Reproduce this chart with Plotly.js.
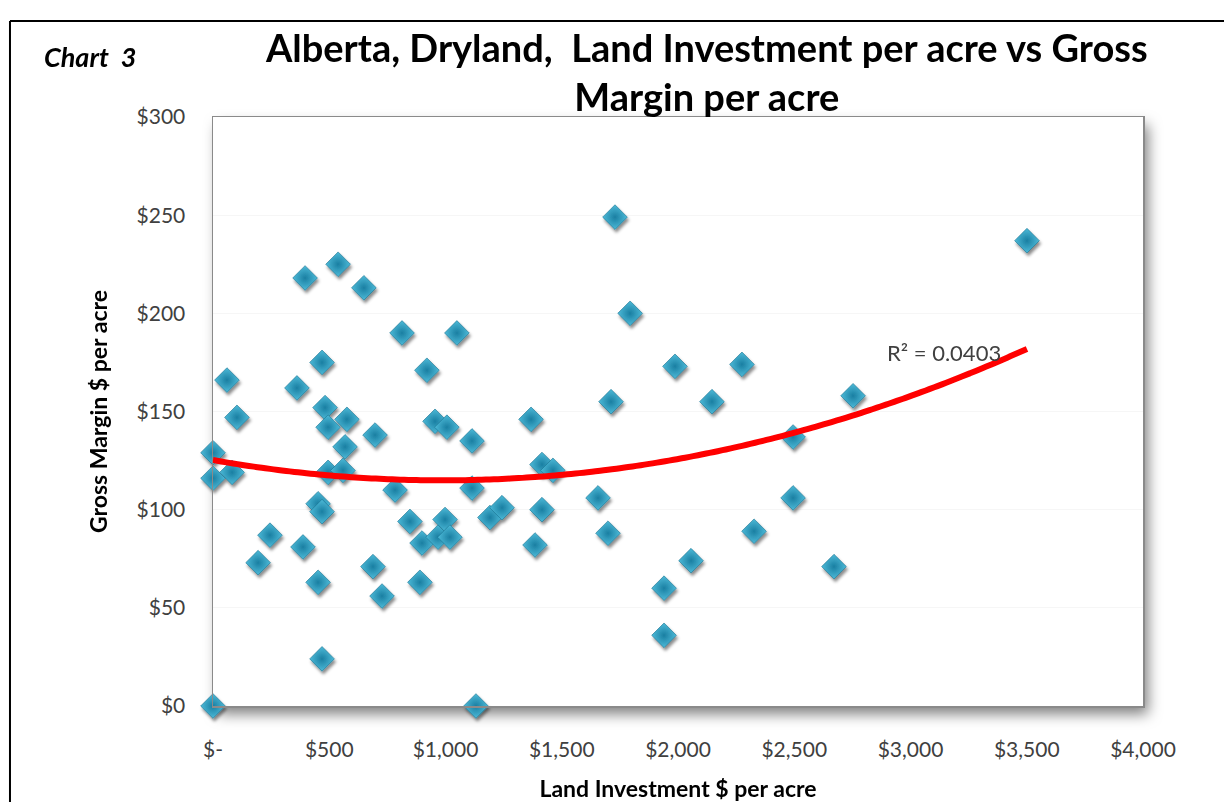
<!DOCTYPE html>
<html>
<head>
<meta charset="utf-8">
<script src="https://cdn.plot.ly/plotly-3.0.1.min.js"></script>
<style>
  html, body { margin: 0; padding: 0; background: #ffffff; }
  #chart { width: 1224px; height: 802px; }
</style>
</head>
<body>
<div id="chart"></div>
<script>
// Land investment ($ per acre) for each farm
const landInvestment = [
  0, 1131, 0, 0, 82, 60, 103, 194, 245, 361,
  396, 387, 452, 469, 482, 469, 452, 469, 495, 495,
  538, 559, 568, 576, 649, 688, 697, 727, 783, 813,
  847, 890, 899, 920, 955, 968, 998, 1019, 1006, 1049,
  1114, 1114, 1191, 1243, 1368, 1385, 1415, 1415, 1462, 1656,
  1699, 1712, 1729, 1794, 1940, 1940, 1987, 2056, 2146, 2275,
  2327, 2495, 2495, 2671, 2753, 3501
];
// Gross margin ($ per acre) for the same farms
const grossMargin = [
  0, 0, 129, 116, 119, 166, 147, 73, 87, 162,
  218, 81, 103, 175, 152, 99, 63, 24, 142, 119,
  225, 120, 132, 146, 213, 71, 138, 56, 110, 190,
  94, 63, 83, 171, 145, 86, 95, 86, 142, 190,
  135, 111, 96, 101, 146, 82, 123, 100, 120, 106,
  88, 155, 249, 200, 60, 36, 173, 74, 155, 174,
  89, 137, 106, 71, 158, 237
];

const xTickVals = [0, 500, 1000, 1500, 2000, 2500, 3000, 3500, 4000];
const xTickText = ['$-', '$500', '$1,000', '$1,500', '$2,000', '$2,500', '$3,000', '$3,500', '$4,000'];
const yTickVals = [0, 50, 100, 150, 200, 250, 300];
const yTickText = ['$0', '$50', '$100', '$150', '$200', '$250', '$300'];

const rSquaredLabel = 'R\u00b2 = 0.0403';

// Second-order polynomial least-squares trend line through the data
function polyFit2(xs, ys) {
  let n = xs.length, s1 = 0, s2 = 0, s3 = 0, s4 = 0, t0 = 0, t1 = 0, t2 = 0;
  for (let i = 0; i < n; i++) {
    const x = xs[i], y = ys[i], x2 = x * x;
    s1 += x; s2 += x2; s3 += x2 * x; s4 += x2 * x2;
    t0 += y; t1 += x * y; t2 += x2 * y;
  }
  const M = [[n, s1, s2, t0], [s1, s2, s3, t1], [s2, s3, s4, t2]];
  for (let c = 0; c < 3; c++) {
    for (let r = c + 1; r < 3; r++) {
      const f = M[r][c] / M[c][c];
      for (let k = c; k < 4; k++) M[r][k] -= f * M[c][k];
    }
  }
  const b = [0, 0, 0];
  for (let r = 2; r >= 0; r--) {
    let s = M[r][3];
    for (let k = r + 1; k < 3; k++) s -= M[r][k] * b[k];
    b[r] = s / M[r][r];
  }
  return b;
}

const coef = polyFit2(landInvestment, grossMargin);
const xMin = Math.min(...landInvestment), xMax = Math.max(...landInvestment);
const trendX = [], trendY = [];
for (let i = 0; i <= 100; i++) {
  const x = xMin + (xMax - xMin) * i / 100;
  trendX.push(x);
  trendY.push(coef[0] + coef[1] * x + coef[2] * x * x);
}

const textGrey = '#404040';
const baseFont = 'Lato, "Open Sans", sans-serif';

const traces = [
  {
    type: 'scatter',
    mode: 'markers',
    x: landInvestment,
    y: grossMargin,
    cliponaxis: false,
    hoverinfo: 'x+y',
    marker: {
      symbol: 'diamond',
      size: 19,
      color: '#4dbad8',
      gradient: { type: 'radial', color: '#1a7fa2' },
      line: { color: '#17708e', width: 0.6 }
    }
  },
  {
    type: 'scatter',
    mode: 'lines',
    x: trendX,
    y: trendY,
    cliponaxis: false,
    hoverinfo: 'skip',
    line: { color: '#ff0000', width: 6, shape: 'spline' }
  }
];

const layout = {
  width: 1224,
  height: 802,
  paper_bgcolor: '#ffffff',
  plot_bgcolor: 'rgba(0,0,0,0)',
  showlegend: false,
  margin: { l: 213, r: 81, t: 117, b: 96 },
  font: { family: baseFont, color: textGrey, size: 18 },
  title: {
    text: 'Alberta, Dryland,  Land Investment per acre vs Gross<br>Margin per acre',
    font: { family: baseFont, size: 38, color: '#000000', weight: 'bold' },
    xref: 'paper', x: 0.531, xanchor: 'center',
    yref: 'container', y: 1 - 62 / 802, yanchor: 'middle'
  },
  xaxis: {
    range: [0, 4000],
    tickvals: xTickVals,
    ticktext: xTickText,
    tickfont: { family: baseFont, size: 21, color: textGrey },
    ticklabelstandoff: 24,
    showgrid: false,
    zeroline: false,
    showline: true,
    mirror: true,
    linecolor: '#8a8a8a',
    linewidth: 1.5,
    ticks: '',
    title: {
      text: 'Land Investment $ per acre',
      font: { family: baseFont, size: 23, color: '#000000', weight: 'bold' },
      standoff: 24
    }
  },
  yaxis: {
    range: [0, 300],
    tickvals: yTickVals,
    ticktext: yTickText,
    tickfont: { family: baseFont, size: 21, color: textGrey },
    ticklabelstandoff: 22,
    showgrid: true,
    gridcolor: '#f6f6f6',
    zeroline: false,
    showline: true,
    mirror: true,
    linecolor: '#8a8a8a',
    linewidth: 1.5,
    ticks: '',
    title: {
      text: 'Gross Margin $ per acre',
      font: { family: baseFont, size: 23, color: '#000000', weight: 'bold' },
      standoff: 22
    }
  },
  annotations: [
    {
      text: rSquaredLabel,
      xref: 'x', yref: 'y',
      x: 3144, y: 180,
      showarrow: false,
      font: { family: baseFont, size: 22, color: textGrey }
    },
    {
      text: '<b><i>Chart  3</i></b>',
      xref: 'paper', yref: 'paper',
      x: -0.184, xanchor: 'left',
      y: 1.102, yanchor: 'middle',
      showarrow: false,
      font: { family: baseFont, size: 27, color: '#000000' }
    }
  ],
  shapes: [
    // white plot panel (gets a drop shadow after rendering)
    { type: 'rect', xref: 'paper', yref: 'paper', x0: 0, x1: 1, y0: 0, y1: 1, layer: 'below',
      fillcolor: '#ffffff', line: { width: 0 } },
    // page frame around the chart
    { type: 'line', xref: 'paper', yref: 'paper', x0: -0.2183, x1: -0.2183, y0: 1.163, y1: -0.2,
      line: { color: '#000000', width: 2 } },
    { type: 'line', xref: 'paper', yref: 'paper', x0: -0.2183, x1: 1.2, y0: 1.163, y1: 1.163,
      line: { color: '#000000', width: 2 } }
  ]
};

const gd = document.getElementById('chart');
Plotly.newPlot(gd, traces, layout, { displayModeBar: false, staticPlot: true }).then(function () {
  const ns = 'http://www.w3.org/2000/svg';
  const svg = gd.querySelector('svg.main-svg');
  let defs = svg.querySelector('defs');
  if (!defs) { defs = document.createElementNS(ns, 'defs'); svg.insertBefore(defs, svg.firstChild); }

  function addShadow(id, dx, dy, blur, opacity) {
    const f = document.createElementNS(ns, 'filter');
    f.setAttribute('id', id);
    f.setAttribute('filterUnits', 'userSpaceOnUse');
    f.setAttribute('x', '-500'); f.setAttribute('y', '-500');
    f.setAttribute('width', '2500'); f.setAttribute('height', '2000');
    const s = document.createElementNS(ns, 'feDropShadow');
    s.setAttribute('dx', dx); s.setAttribute('dy', dy);
    s.setAttribute('stdDeviation', blur);
    s.setAttribute('flood-color', '#000000');
    s.setAttribute('flood-opacity', opacity);
    f.appendChild(s);
    defs.appendChild(f);
  }
  addShadow('plotShadow', 5, 8, 7, 0.5);
  addShadow('markShadow', 1.5, 3, 1.5, 0.45);

  const panel = svg.querySelector('.layer-below .shapelayer path');
  if (panel) panel.setAttribute('filter', 'url(#plotShadow)');
  const firstTrace = svg.querySelector('.scatterlayer .trace .points');
  if (firstTrace) firstTrace.setAttribute('filter', 'url(#markShadow)');
});
</script>
</body>
</html>
